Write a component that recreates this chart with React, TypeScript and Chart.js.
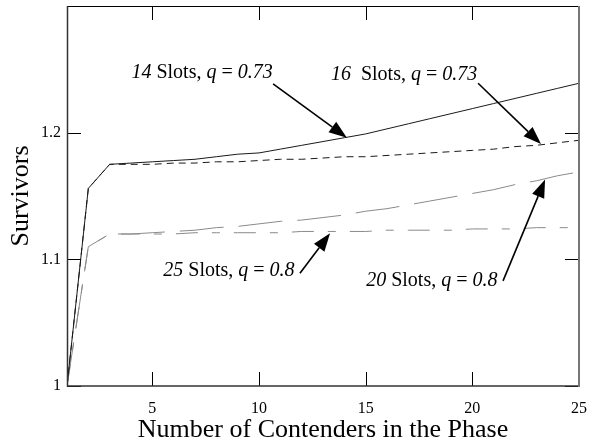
import { useEffect, useRef } from 'react';
import { Chart, registerables } from 'chart.js';

Chart.register(...registerables);

const contenders = [1, 2, 3, 4, 5, 6, 7, 8, 9, 10, 11, 12, 13, 14, 15, 16, 17, 18, 19, 20, 21, 22, 23, 24, 25];
const slots14 = [1.0, 1.156, 1.175, 1.176, 1.177, 1.178, 1.179, 1.181, 1.183, 1.184, 1.187, 1.19, 1.193, 1.196, 1.199, 1.203, 1.207, 1.211, 1.215, 1.219, 1.223, 1.227, 1.231, 1.235, 1.239];
const slots16 = [1.0, 1.156, 1.175, 1.175, 1.175, 1.176, 1.176, 1.177, 1.177, 1.178, 1.179, 1.179, 1.18, 1.181, 1.181, 1.182, 1.183, 1.184, 1.185, 1.186, 1.187, 1.189, 1.19, 1.192, 1.194];
const slots20 = [1.0, 1.11, 1.12, 1.12, 1.121, 1.122, 1.123, 1.125, 1.126, 1.128, 1.13, 1.131, 1.133, 1.135, 1.138, 1.14, 1.143, 1.146, 1.149, 1.152, 1.155, 1.159, 1.162, 1.166, 1.169];
const slots25 = [1.0, 1.11, 1.12, 1.12, 1.12, 1.12, 1.121, 1.121, 1.121, 1.121, 1.121, 1.122, 1.122, 1.122, 1.122, 1.123, 1.123, 1.123, 1.123, 1.124, 1.124, 1.124, 1.125, 1.125, 1.125];

const xTickValues = [5, 10, 15, 20, 25];
const yTickValues = [1, 1.1, 1.2];
const yMin = 1;
const yMax = 1.3;
const xTitle = 'Number of Contenders in the Phase';
const yTitle = 'Survivors';

type Seg = { t: string; i: boolean };
const annotationTexts: Seg[][] = [
  [{ t: '14', i: true }, { t: ' Slots, ', i: false }, { t: 'q', i: true }, { t: ' = ', i: false }, { t: '0.73', i: true }],
  [{ t: '16', i: true }, { t: '  Slots, ', i: false }, { t: 'q', i: true }, { t: ' = ', i: false }, { t: '0.73', i: true }],
  [{ t: '25', i: true }, { t: ' Slots, ', i: false }, { t: 'q', i: true }, { t: ' = ', i: false }, { t: '0.8', i: true }],
  [{ t: '20', i: true }, { t: ' Slots, ', i: false }, { t: 'q', i: true }, { t: ' = ', i: false }, { t: '0.8', i: true }],
];
// annotation anchors in data coordinates [x, y]
const annotationTextAt = [[7.33, 1.247], [16.8, 1.246], [8.59, 1.0913], [18.1, 1.083]];
const arrowFrom = [[10.66, 1.2386], [20.27, 1.239], [11.92, 1.089], [21.44, 1.083]];
const arrowTo = [[14.12, 1.196], [23.22, 1.191], [13.33, 1.1205], [23.41, 1.163]];

const SERIF = '"Liberation Serif", "Times New Roman", serif';

const framePlugin = {
  id: 'frameAndNotes',
  afterDatasetsDraw(chart: any) {
    const { ctx, chartArea: a, scales } = chart;
    const x = scales.x;
    const y = scales.y;
    ctx.save();
    // inward ticks
    ctx.strokeStyle = '#000';
    ctx.lineWidth = 1;
    ctx.beginPath();
    for (const v of xTickValues) {
      const px = Math.round(x.getPixelForValue(v)) + 0.5;
      ctx.moveTo(px, a.bottom);
      ctx.lineTo(px, a.bottom - 14);
      ctx.moveTo(px, a.top);
      ctx.lineTo(px, a.top + 14);
    }
    for (const v of yTickValues) {
      const py = Math.round(y.getPixelForValue(v)) + 0.5;
      ctx.moveTo(a.left, py);
      ctx.lineTo(a.left + 14, py);
      ctx.moveTo(a.right, py);
      ctx.lineTo(a.right - 14, py);
    }
    ctx.stroke();
    // frame
    ctx.lineWidth = 1;
    ctx.strokeStyle = '#000';
    ctx.beginPath();
    ctx.moveTo(a.left, a.top + 0.5);
    ctx.lineTo(a.right, a.top + 0.5);
    ctx.stroke();
    ctx.strokeStyle = '#333';
    ctx.lineWidth = 1.5;
    ctx.beginPath();
    ctx.moveTo(a.left + 0.5, a.top);
    ctx.lineTo(a.left + 0.5, a.bottom);
    ctx.lineTo(a.right, a.bottom);
    ctx.stroke();
    ctx.strokeStyle = '#777';
    ctx.lineWidth = 2;
    ctx.beginPath();
    ctx.moveTo(a.right, a.top);
    ctx.lineTo(a.right, a.bottom + 1);
    ctx.stroke();

    // annotations
    const size = 20;
    ctx.fillStyle = '#000';
    ctx.textBaseline = 'middle';
    ctx.textAlign = 'left';
    annotationTexts.forEach((segs, k) => {
      let total = 0;
      const widths = segs.map((s) => {
        ctx.font = `${s.i ? 'italic ' : ''}${size}px ${SERIF}`;
        const w = ctx.measureText(s.t).width;
        total += w;
        return w;
      });
      const cx = x.getPixelForValue(annotationTextAt[k][0]);
      const cy = y.getPixelForValue(annotationTextAt[k][1]);
      let px = cx - total / 2;
      segs.forEach((s, j) => {
        ctx.font = `${s.i ? 'italic ' : ''}${size}px ${SERIF}`;
        ctx.fillText(s.t, px, cy);
        px += widths[j];
      });
      // arrow
      const x0 = x.getPixelForValue(arrowFrom[k][0]);
      const y0 = y.getPixelForValue(arrowFrom[k][1]);
      const x1 = x.getPixelForValue(arrowTo[k][0]);
      const y1 = y.getPixelForValue(arrowTo[k][1]);
      const ang = Math.atan2(y1 - y0, x1 - x0);
      const headLen = 18;
      const headHalf = 6.5;
      const bx = x1 - headLen * Math.cos(ang);
      const by = y1 - headLen * Math.sin(ang);
      ctx.strokeStyle = '#000';
      ctx.lineWidth = 1.6;
      ctx.beginPath();
      ctx.moveTo(x0, y0);
      ctx.lineTo(bx, by);
      ctx.stroke();
      ctx.beginPath();
      ctx.moveTo(x1, y1);
      ctx.lineTo(bx + headHalf * Math.sin(ang), by - headHalf * Math.cos(ang));
      ctx.lineTo(bx - headHalf * Math.sin(ang), by + headHalf * Math.cos(ang));
      ctx.closePath();
      ctx.fill();
    });
    ctx.restore();
  },
};

export default function App() {
  const ref = useRef<HTMLCanvasElement | null>(null);
  useEffect(() => {
    if (!ref.current) return;
    const mk = (data: number[], color: string, dash: number[], label: string) => ({
      label,
      data: contenders.map((c, i) => ({ x: c, y: data[i] })),
      borderColor: color,
      borderWidth: 1,
      borderDash: dash,
      pointRadius: 0,
      tension: 0,
      fill: false,
    });
    const chart = new Chart(ref.current, {
      type: 'line',
      data: {
        datasets: [
          mk(slots14, '#1a1a1a', [], '14 Slots'),
          mk(slots16, '#1a1a1a', [7, 5], '16 Slots'),
          mk(slots20, '#8a8a8a', [44, 15], '20 Slots'),
          mk(slots25, '#8a8a8a', [22, 14, 8, 14], '25 Slots'),
        ],
      },
      options: {
        responsive: false,
        animation: false,
        layout: { padding: { top: 6, right: 10, left: 0, bottom: 0 } },
        plugins: { legend: { display: false }, tooltip: { enabled: false } },
        scales: {
          x: {
            type: 'linear',
            min: 1,
            max: 25,
            grid: { display: false, drawTicks: false },
            border: { display: false },
            afterBuildTicks: (s: any) => {
              s.ticks = xTickValues.map((v) => ({ value: v }));
            },
            afterFit: (s: any) => {
              s.height = 61;
              s.paddingLeft = 0;
              s.paddingRight = 0;
            },
            ticks: {
              color: '#000',
              padding: 13,
              maxRotation: 0,
              font: { family: SERIF, size: 16 },
              callback: (v: any) => String(v),
            },
            title: {
              display: true,
              text: xTitle,
              color: '#000',
              font: { family: SERIF, size: 26 },
              padding: { top: 0, bottom: 1 },
            },
          },
          y: {
            type: 'linear',
            min: yMin,
            max: yMax,
            grid: { display: false, drawTicks: false },
            border: { display: false },
            afterBuildTicks: (s: any) => {
              s.ticks = yTickValues.map((v) => ({ value: v }));
            },
            afterFit: (s: any) => {
              s.width = 67;
              s.paddingTop = 0;
              s.paddingBottom = 0;
            },
            ticks: {
              color: '#000',
              padding: 6,
              font: { family: SERIF, size: 16 },
              callback: (v: any) => String(+Number(v).toFixed(1)),
            },
            title: {
              display: true,
              text: yTitle,
              color: '#000',
              font: { family: SERIF, size: 26 },
              padding: { top: 6, bottom: 0 },
            },
          },
        },
      },
      plugins: [framePlugin],
    });
    return () => chart.destroy();
  }, []);
  return (
    <div style={{ position: 'fixed', left: 0, top: 0, width: 589, height: 447, background: '#fff' }}>
      <canvas ref={ref} width={589} height={447} style={{ display: 'block' }} />
    </div>
  );
}
